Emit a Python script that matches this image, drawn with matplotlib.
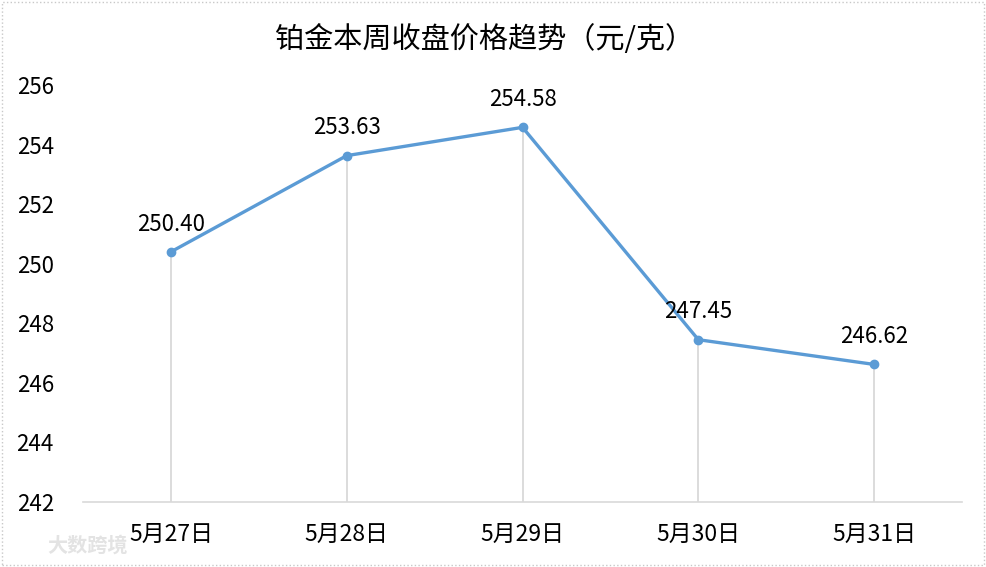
import matplotlib
matplotlib.use("Agg")
import matplotlib.pyplot as plt
from matplotlib.patches import Rectangle

plt.rcParams['font.family'] = ['Noto Sans CJK SC', 'DejaVu Sans']

categories = ["5月27日", "5月28日", "5月29日", "5月30日", "5月31日"]
prices = [250.40, 253.63, 254.58, 247.45, 246.62]
price_labels = ["250.40", "253.63", "254.58", "247.45", "246.62"]
yticks = [242, 244, 246, 248, 250, 252, 254, 256]
title = "铂金本周收盘价格趋势（元/克）"

fig = plt.figure(figsize=(9.86, 5.67), dpi=100)
ax = fig.add_axes([0.0842, 0.1146, 0.8915, 0.7354])

x = list(range(len(categories)))
ax.vlines(x, 242, prices, color='#D9D9D9', linewidth=1.3, zorder=1)
ax.plot(x, prices, color='#5B9BD5', linewidth=2.4, marker='o', markersize=6,
        zorder=3)
for xi, yi, lab in zip(x, prices, price_labels):
    ax.annotate(lab, (xi, yi), xytext=(0, 20), textcoords='offset points',
                ha='center', va='center', fontsize=16, color='#000000')

ax.set_xlim(-0.5, len(categories) - 0.5)
ax.set_ylim(242, 256)
ax.set_yticks(yticks)
ax.set_xticks(x)
ax.set_xticklabels(categories)
ax.tick_params(axis='y', length=0, pad=21, labelsize=16)
ax.tick_params(axis='x', length=0, pad=15, labelsize=16.5)
for s in ['top', 'right', 'left']:
    ax.spines[s].set_visible(False)
ax.spines['bottom'].set_color('#D9D9D9')
ax.spines['bottom'].set_linewidth(1.2)

fig.text(0.491, 0.929, title, ha='center', va='center', fontsize=21,
         color='#000000')

fig.text(0.048, 0.039, "大数跨境", ha='left', va='center', fontsize=14.5,
         color='#E3E3E3', fontweight='bold')

fig.patches.append(Rectangle((0.002, 0.003), 0.996, 0.994, transform=fig.transFigure,
                             fill=False, edgecolor='#C8C8C8', linewidth=1.0,
                             linestyle=':'))

fig.savefig('out.png', dpi=100)
